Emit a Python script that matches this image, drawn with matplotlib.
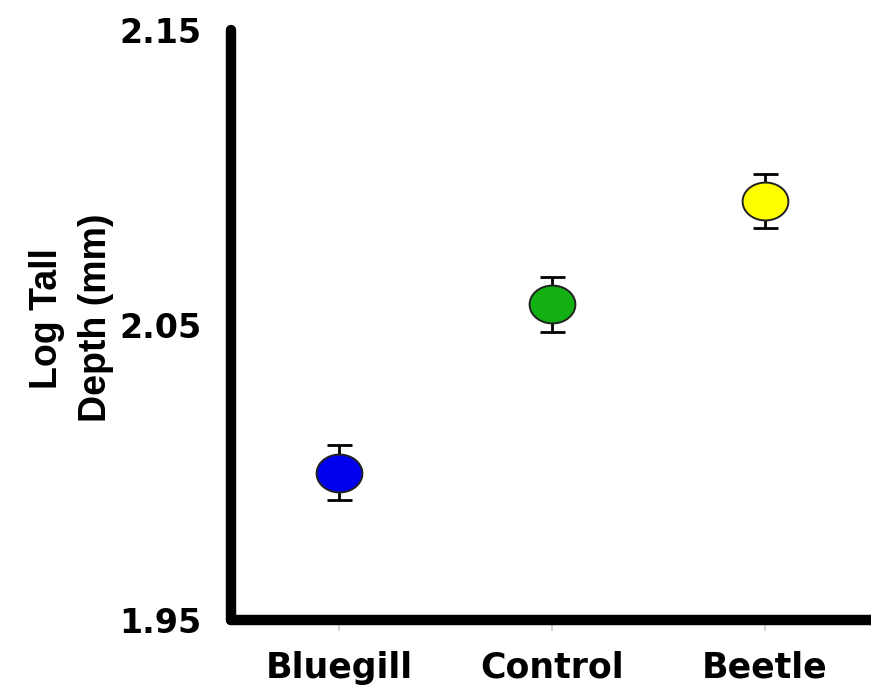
import numpy as np
import matplotlib
matplotlib.use('Agg')
import matplotlib.pyplot as plt
from matplotlib.path import Path

# data
groups = ['Bluegill', 'Control', 'Beetle']
means = [2.000, 2.057, 2.092]
errs = [0.0093, 0.0092, 0.0091]
colors = ['#0000ee', '#12b012', '#ffff00']
yticks = [1.95, 2.05, 2.15]

# circle markers in the source are a bit wider than tall
t = np.linspace(0, 2 * np.pi, 60)
ellipse = Path(np.column_stack([1.21 * np.cos(t), np.sin(t)]))

fig = plt.figure(figsize=(8.71, 6.93), dpi=100)
ax = fig.add_axes([0.2652, 0.1053, 0.7348, 0.8514])

x = np.arange(1, len(groups) + 1)
for i in range(len(groups)):
    ax.errorbar(x[i], means[i], yerr=errs[i], fmt='none', ecolor='black',
                elinewidth=2, capsize=9, capthick=2, zorder=2)
    ax.plot(x[i], means[i], marker=ellipse, markersize=33, color=colors[i],
            markeredgecolor='#222222', markeredgewidth=1.4, linestyle='none', zorder=3)

ax.set_xlim(0.49, 3.5)
ax.set_ylim(1.95, 2.15)
ax.set_xticks(x)
ax.set_xticklabels(groups)
ax.set_yticks(yticks)
ax.set_yticklabels(['%.2f' % v for v in yticks])

for s in ['top', 'right']:
    ax.spines[s].set_visible(False)
for s in ['left', 'bottom']:
    ax.spines[s].set_linewidth(7.5)
    ax.spines[s].set_capstyle('round')

ax.tick_params(axis='x', length=8, width=1.2, color='#cccccc', pad=14)
ax.tick_params(axis='y', length=0, pad=21)
for lab in ax.get_xticklabels():
    lab.set_fontfamily('DejaVu Sans')
    lab.set_fontweight('bold')
    lab.set_fontsize(25)
for lab in ax.get_yticklabels():
    lab.set_fontfamily('DejaVu Sans')
    lab.set_fontweight('bold')
    lab.set_fontsize(24)

fig.text(0.082, 0.541, 'Log Tall\nDepth (mm)', rotation=90, ha='center', va='center',
         multialignment='center', fontsize=27, fontweight='bold',
         family='Liberation Sans', linespacing=1.45)

fig.savefig('out.png', dpi=100)
